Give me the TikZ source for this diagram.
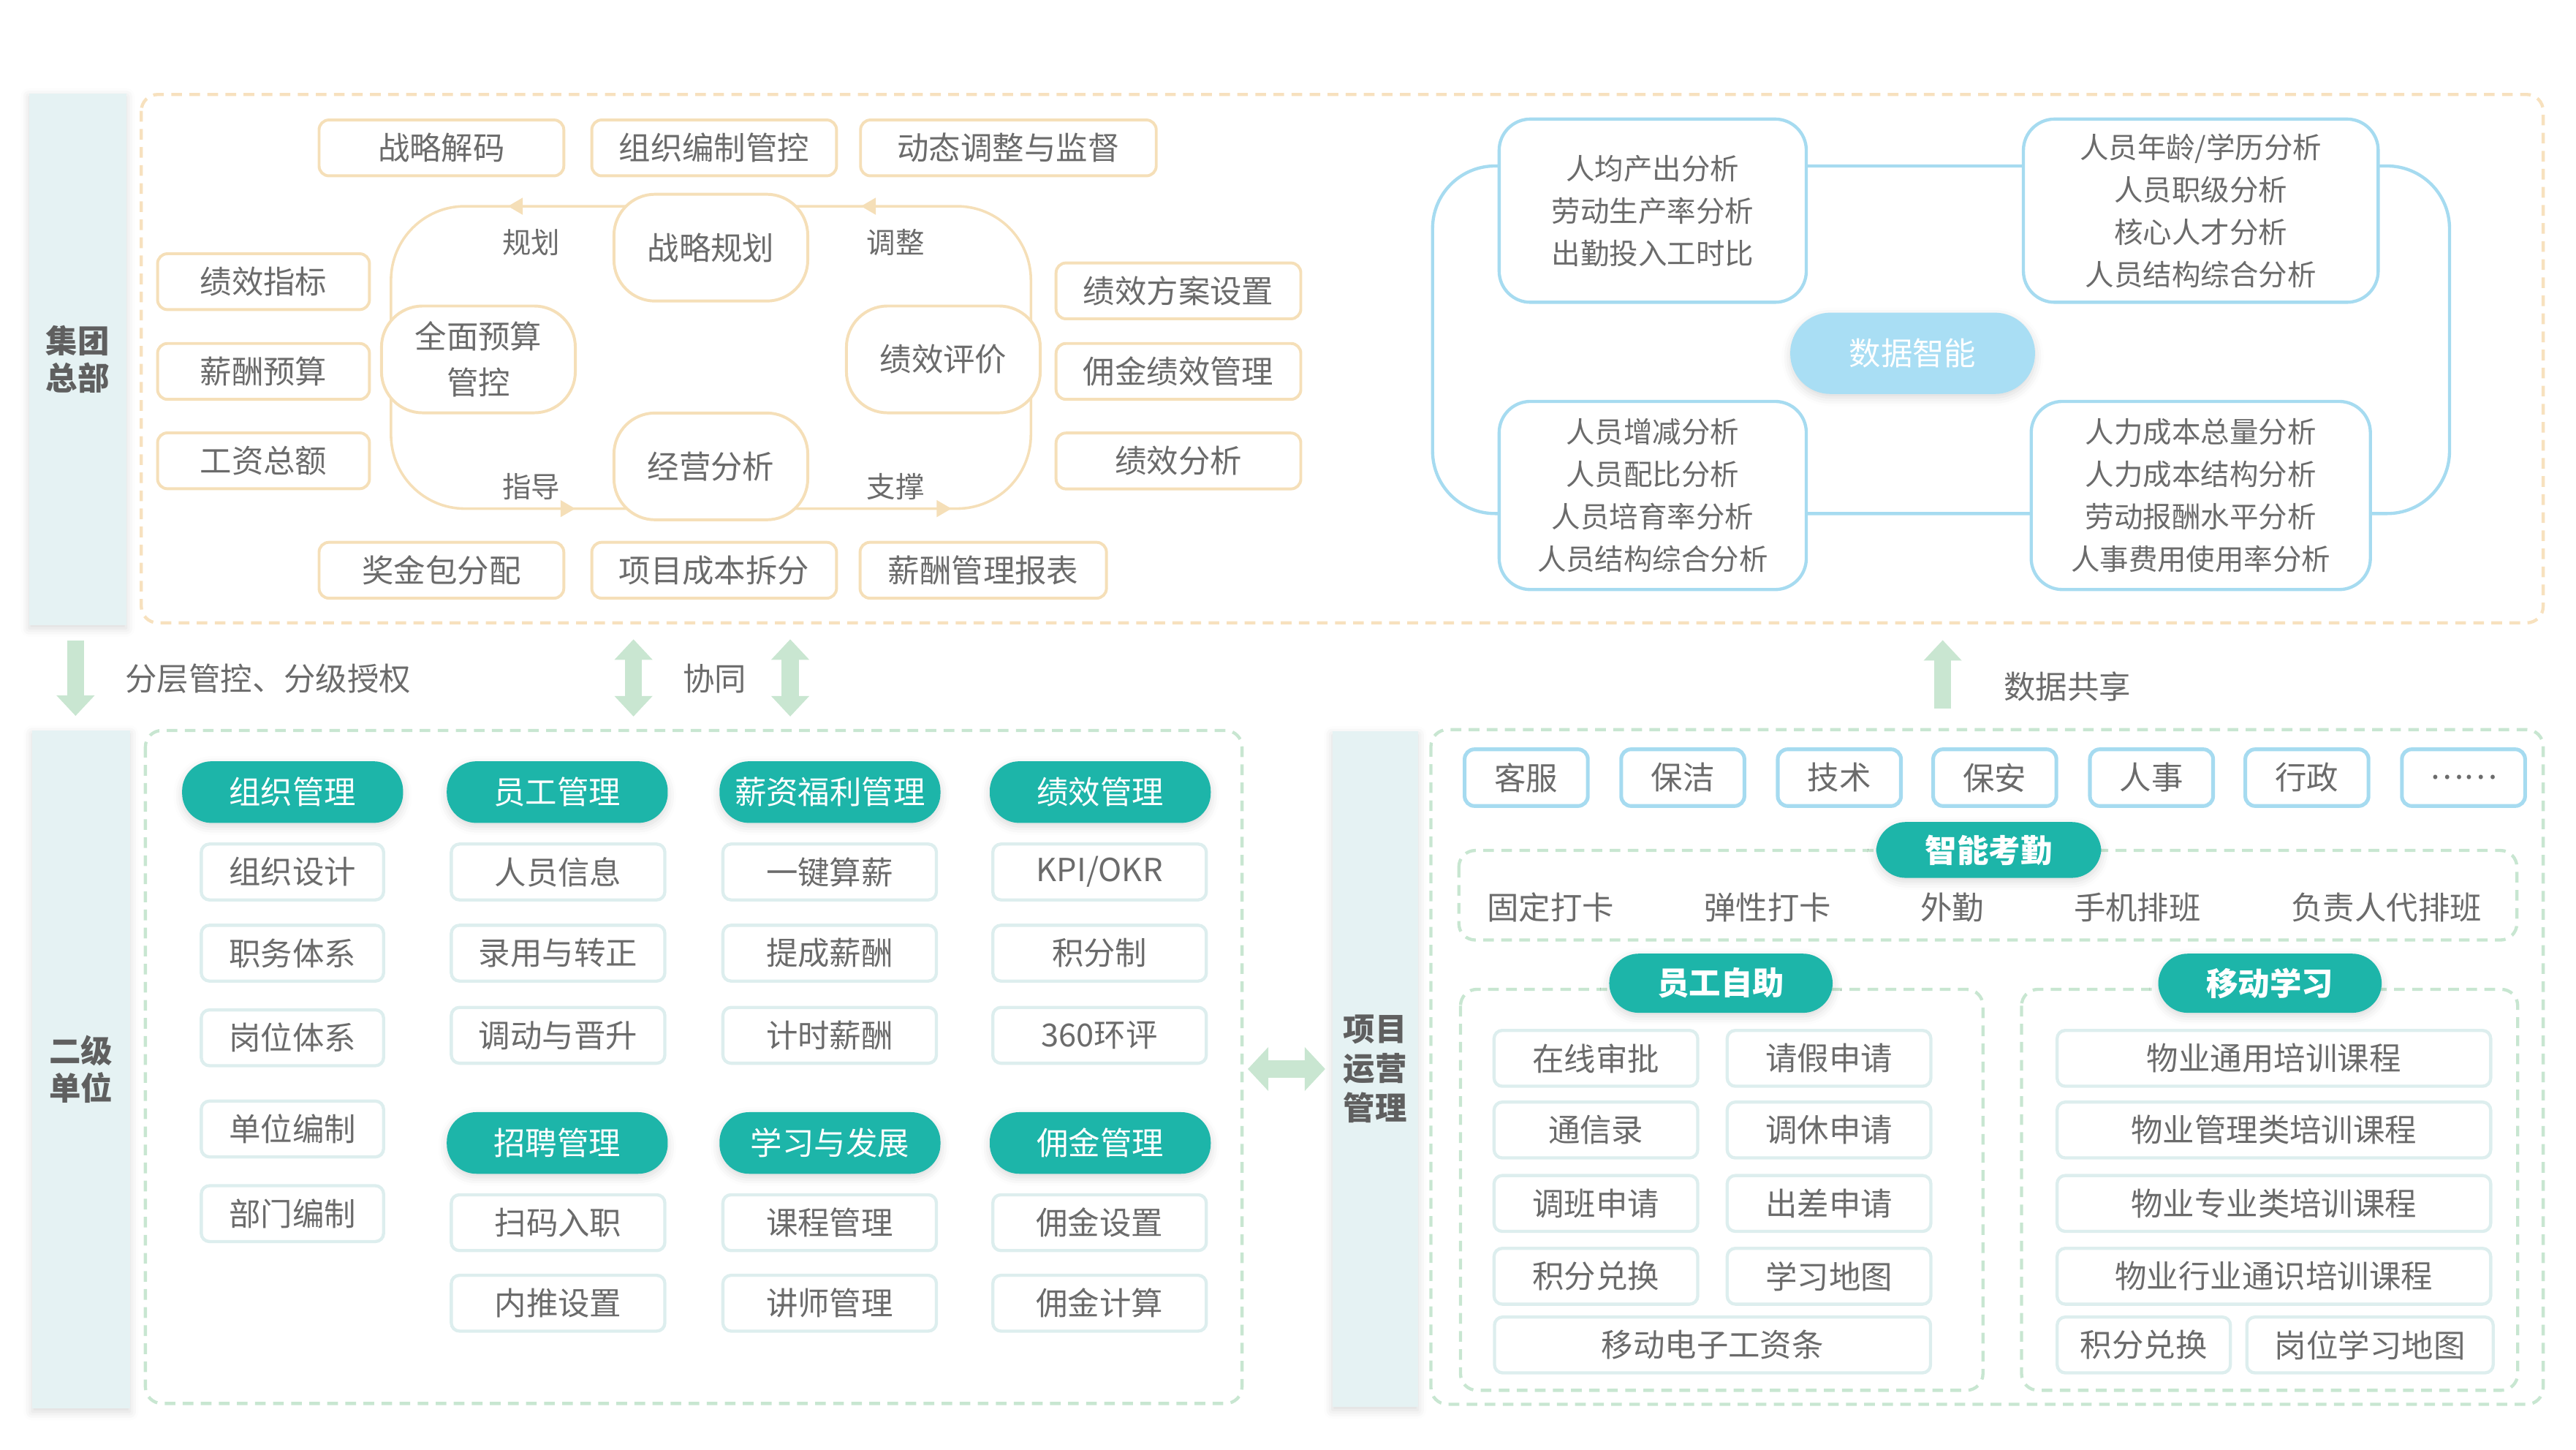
\documentclass[tikz,border=0pt]{standalone}
\usepackage{fontspec}
\setmainfont{Noto Sans CJK SC}
\usetikzlibrary{arrows.meta,decorations.markings,shadows.blur}

\definecolor{txtc}{HTML}{6B6B6B}
\definecolor{sidetxt}{HTML}{5F5F5F}
\definecolor{orangec}{HTML}{F5DFB8}
\definecolor{oframec}{HTML}{F7E1BE}
\definecolor{bluec}{HTML}{A6DBF0}
\definecolor{bluefill}{HTML}{A9DEF4}
\definecolor{tealc}{HTML}{1DB5A9}
\definecolor{subc}{HTML}{DDEEEE}
\definecolor{gframec}{HTML}{C8E6D1}
\definecolor{arrowc}{HTML}{C9E6D1}
\definecolor{sidec}{HTML}{E5F2F3}

\tikzset{
  every node/.style={font=\fontsize{11}{14}\selectfont, text=txtc},
  softshadow/.style={blur shadow={shadow xshift=0pt, shadow yshift=-1.2pt, shadow blur radius=3pt, shadow opacity=15}},
  side/.style={fill=sidec, align=center, text=sidetxt, font=\bfseries\fontsize{11}{13}\selectfont, softshadow},
  oframe/.style={draw=oframec, line width=1.1pt, dash pattern=on 0.13cm off 0.09cm, rounded corners=0.2cm},
  gframe/.style={draw=gframec, line width=1.1pt, dash pattern=on 0.13cm off 0.09cm, rounded corners=0.2cm},
  obox/.style={draw=orangec, line width=1pt, fill=white, rounded corners=0.12cm, minimum height=0.68cm},
  cnode/.style={draw=orangec, line width=1pt, fill=white, rounded corners=0.5cm, minimum width=2.36cm, minimum height=1.3cm, align=center, font=\fontsize{11}{16}\selectfont},
  cyc/.style={draw=orangec, line width=0.9pt, rounded corners=0.9cm},
  tipat/.style={postaction={decorate, decoration={markings, mark=at position #1 with {\pgfsetcornersarced{\pgfpointorigin}\arrow[orangec]{Triangle[length=0.18cm,width=0.2cm]}}}}},
  lbl/.style={font=\fontsize{10}{12}\selectfont},
  dbox/.style={draw=bluec, line width=1.1pt, fill=white, rounded corners=0.38cm, align=center, font=\fontsize{10}{14.7}\selectfont},
  bigpill/.style={fill=bluefill, text=white, rounded corners=0.49cm, minimum width=2.98cm, minimum height=0.99cm, softshadow},
  tpill/.style={fill=tealc, text=white, rounded corners=0.36cm, minimum width=2.69cm, minimum height=0.75cm, softshadow},
  sbox/.style={draw=subc, line width=1.1pt, fill=white, rounded corners=0.1cm, minimum height=0.68cm},
  rbox/.style={draw=bluec, line width=1.3pt, fill=white, rounded corners=0.12cm, minimum width=1.5cm, minimum height=0.69cm},
  fat/.style={arrowc, line width=0.21cm},
  vtip/.tip={Triangle[length=0.25cm,width=0.45cm]},
  htip/.tip={Triangle[length=0.25cm,width=0.52cm]}
}

\begin{document}
\begin{tikzpicture}[x=0.02cm, y=-0.02cm]
\useasboundingbox (0,0) rectangle (1568,882);

% Dashed frames
\draw[oframe] (86,57.5) rectangle (1548,379);
\draw[gframe] (88.5,444.5) rectangle (756,854);
\draw[gframe] (871,444) rectangle (1548,854.5);
\draw[gframe] (888,517.5) rectangle (1532,572);
\draw[gframe] (889,602) rectangle (1207,846);
\draw[gframe] (1230.5,602) rectangle (1532.5,846);

% Side bars
\node[side, minimum width=1.18cm, minimum height=6.47cm] (jt) at (47.3,218.5) {集团\\总部};
\node[side, minimum width=1.19cm, minimum height=8.25cm] (ej) at (49.3,650.7) {二级\\单位};
\node[side, minimum width=1.04cm, minimum height=8.22cm, font=\bfseries\fontsize{11}{13.6}\selectfont] (xm) at (837,650.5) {项目\\运营\\管理};

% Cycle lines, drawn before the cycle nodes
\coordinate (zlc) at (432.7,150.7);
\coordinate (qmc) at (291.2,218.7);
\coordinate (jxc) at (574.2,218.7);
\coordinate (jyc) at (432.7,283.8);
\coordinate (lpT) at (0,125.5);
\coordinate (lpB) at (0,309.5);
\coordinate (lpL) at (238,0);
\coordinate (lpR) at (627.5,0);
\draw[cyc, tipat=0.46] (zlc |- lpT) -| (lpL |- qmc);
\draw[cyc, tipat=0.69] (lpL |- qmc) |- (jyc |- lpB);
\draw[cyc, tipat=0.55] (jyc |- lpB) -| (lpR |- jxc);
\draw[cyc, tipat=0.66] (lpR |- jxc) |- (zlc |- lpT);

% Group level boxes
\node[obox, minimum width=2.98cm] (s1) at (268.7,90) {战略解码};
\node[obox, minimum width=2.98cm] (s2) at (434.7,90) {组织编制管控};
\node[obox, minimum width=3.6cm] (s3) at (613.8,90) {动态调整与监督};
\node[obox, minimum width=2.58cm] (l1) at (160.4,171.4) {绩效指标};
\node[obox, minimum width=2.58cm] (l2) at (160.4,226) {薪酬预算};
\node[obox, minimum width=2.58cm] (l3) at (160.4,280.4) {工资总额};
\node[obox, minimum width=2.98cm] (b1) at (268.7,347) {奖金包分配};
\node[obox, minimum width=2.98cm] (b2) at (434.7,347) {项目成本拆分};
\node[obox, minimum width=3.0cm] (b3) at (598.5,347) {薪酬管理报表};
\node[obox, minimum width=2.98cm] (r1) at (717.3,177) {绩效方案设置};
\node[obox, minimum width=2.98cm] (r2) at (717.3,226) {佣金绩效管理};
\node[obox, minimum width=2.98cm] (r3) at (717.3,280.5) {绩效分析};

\node[cnode] (zl) at (zlc) {战略规划};
\node[cnode] (qm) at (qmc) {全面预算\\管控};
\node[cnode] (jx) at (jxc) {绩效评价};
\node[cnode] (jy) at (jyc) {经营分析};
\node[lbl] (gh) at (323.4,147.5) {规划};
\node[lbl] (tz) at (545.1,147.5) {调整};
\node[lbl] (zd) at (323.4,296) {指导};
\node[lbl] (zc) at (545.1,296) {支撑};

% Data intelligence
\coordinate (dl) at (872,101);
\coordinate (dr) at (1491,312.5);
\draw[bluec, line width=1.1pt, rounded corners=0.76cm] (dl) rectangle (dr);
\node[dbox, minimum width=3.74cm, minimum height=2.23cm] (d1) at (1006,128.2) {人均产出分析\\劳动生产率分析\\出勤投入工时比};
\node[dbox, minimum width=4.32cm, minimum height=2.23cm] (d2) at (1339.6,128.2) {人员年龄/学历分析\\人员职级分析\\核心人才分析\\人员结构综合分析};
\node[dbox, minimum width=3.74cm, minimum height=2.29cm] (d3) at (1006,301.5) {人员增减分析\\人员配比分析\\人员培育率分析\\人员结构综合分析};
\node[dbox, minimum width=4.13cm, minimum height=2.29cm] (d4) at (1339.6,301.5) {人力成本总量分析\\人力成本结构分析\\劳动报酬水平分析\\人事费用使用率分析};
\node[bigpill] (sj) at (1164.2,215) {数据智能};

% Arrows between levels
\coordinate (xa1) at (385.6,379);
\coordinate (xb1) at (385.6,444.5);
\coordinate (xa2) at (481,379);
\coordinate (xb2) at (481,444.5);
\coordinate (ua) at (1182.5,444);
\coordinate (ub) at (1182.5,379);
\coordinate (hr) at (756,650.5);
\draw[fat, -vtip, shorten <=0.18cm, shorten >=0.17cm] (jt.south -| 46,0) -- (ej.north -| 46,0);
\draw[fat, vtip-vtip, shorten <=0.2cm, shorten >=0.17cm] (xa1) -- (xb1);
\draw[fat, vtip-vtip, shorten <=0.2cm, shorten >=0.17cm] (xa2) -- (xb2);
\draw[fat, -vtip, shorten <=0.26cm, shorten >=0.21cm] (ua) -- (ub);
\draw[fat, htip-htip, shorten <=0.07cm, shorten >=0.08cm] (hr) -- (xm.west);
\node[anchor=west] (fc) at (70,413) {分层管控、分级授权};
\node (xt) at (435,413) {协同};
\node (gx) at (1258.3,417.6) {数据共享};

% Second level units
\node[tpill] (h1) at (178.1,482) {组织管理};
\node[tpill] (h2) at (339.2,482) {员工管理};
\node[tpill] (h3) at (505.2,482) {薪资福利管理};
\node[tpill] (h4) at (669.7,482) {绩效管理};
\node[tpill] (h5) at (339.2,695.5) {招聘管理};
\node[tpill] (h6) at (505.2,695.5) {学习与发展};
\node[tpill] (h7) at (669.7,695.5) {佣金管理};

\node[sbox, minimum width=2.22cm] (a1) at (178,530.6) {组织设计};
\node[sbox, minimum width=2.22cm] (a2) at (178,580) {职务体系};
\node[sbox, minimum width=2.22cm] (a3) at (178,631.5) {岗位体系};
\node[sbox, minimum width=2.22cm] (a4) at (178,687) {单位编制};
\node[sbox, minimum width=2.22cm] (a5) at (178,738.5) {部门编制};

\node[sbox, minimum width=2.6cm] (e1) at (339.7,530.6) {人员信息};
\node[sbox, minimum width=2.6cm] (e2) at (339.7,580) {录用与转正};
\node[sbox, minimum width=2.6cm] (e3) at (339.7,630) {调动与晋升};
\node[sbox, minimum width=2.6cm] (e4) at (339.7,744) {扫码入职};
\node[sbox, minimum width=2.6cm] (e5) at (339.7,793) {内推设置};

\node[sbox, minimum width=2.6cm] (p1) at (505,530.6) {一键算薪};
\node[sbox, minimum width=2.6cm] (p2) at (505,580) {提成薪酬};
\node[sbox, minimum width=2.6cm] (p3) at (505,630) {计时薪酬};
\node[sbox, minimum width=2.6cm] (p4) at (505,744) {课程管理};
\node[sbox, minimum width=2.6cm] (p5) at (505,793) {讲师管理};

\node[sbox, minimum width=2.6cm] (k1) at (669.3,530.6) {KPI/OKR};
\node[sbox, minimum width=2.6cm] (k2) at (669.3,580) {积分制};
\node[sbox, minimum width=2.6cm] (k3) at (669.3,630) {360环评};
\node[sbox, minimum width=2.6cm] (k4) at (669.3,744) {佣金设置};
\node[sbox, minimum width=2.6cm] (k5) at (669.3,793) {佣金计算};

% Project operation
\node[rbox] (g1) at (929,473.2) {客服};
\node[rbox] (g2) at (1024.3,473.2) {保洁};
\node[rbox] (g3) at (1119.6,473.2) {技术};
\node[rbox] (g4) at (1214.2,473.2) {保安};
\node[rbox] (g5) at (1309.6,473.2) {人事};
\node[rbox] (g6) at (1404.2,473.2) {行政};
\node[rbox] (g7) at (1499.5,473.2) {……};

\node[tpill, font=\bfseries\fontsize{11}{14}\selectfont, minimum width=2.74cm, minimum height=0.68cm] (kq) at (1210.5,517.2) {智能考勤};
\node (q1) at (943.9,552.2) {固定打卡};
\node (q2) at (1075.9,552.2) {弹性打卡};
\node (q3) at (1188.4,552.2) {外勤};
\node (q4) at (1301,552.2) {手机排班};
\node (q5) at (1452.6,552.2) {负责人代排班};

\node[tpill, font=\bfseries\fontsize{11}{14}\selectfont, minimum width=2.72cm, minimum height=0.72cm] (zz) at (1047.5,598.3) {员工自助};
\node[sbox, minimum width=2.48cm] (z1) at (971.4,644) {在线审批};
\node[sbox, minimum width=2.48cm] (z2) at (1113.3,644) {请假申请};
\node[sbox, minimum width=2.48cm] (z3) at (971.4,687.6) {通信录};
\node[sbox, minimum width=2.48cm] (z4) at (1113.3,687.6) {调休申请};
\node[sbox, minimum width=2.48cm] (z5) at (971.4,732.3) {调班申请};
\node[sbox, minimum width=2.48cm] (z6) at (1113.3,732.3) {出差申请};
\node[sbox, minimum width=2.48cm] (z7) at (971.4,776.6) {积分兑换};
\node[sbox, minimum width=2.48cm] (z8) at (1113.3,776.6) {学习地图};
\node[sbox, minimum width=5.31cm] (z9) at (1042.4,818.4) {移动电子工资条};

\node[tpill, font=\bfseries\fontsize{11}{14}\selectfont, minimum width=2.72cm, minimum height=0.72cm] (yd) at (1381.7,598.3) {移动学习};
\node[sbox, minimum width=5.28cm] (y1) at (1384.1,644) {物业通用培训课程};
\node[sbox, minimum width=5.28cm] (y2) at (1384.1,687.6) {物业管理类培训课程};
\node[sbox, minimum width=5.28cm] (y3) at (1384.1,732.3) {物业专业类培训课程};
\node[sbox, minimum width=5.28cm] (y4) at (1384.1,776.6) {物业行业通识培训课程};
\node[sbox, minimum width=2.11cm] (y5) at (1304.9,818.4) {积分兑换};
\node[sbox, minimum width=3.0cm] (y6) at (1442.6,818.4) {岗位学习地图};
\end{tikzpicture}
\end{document}
